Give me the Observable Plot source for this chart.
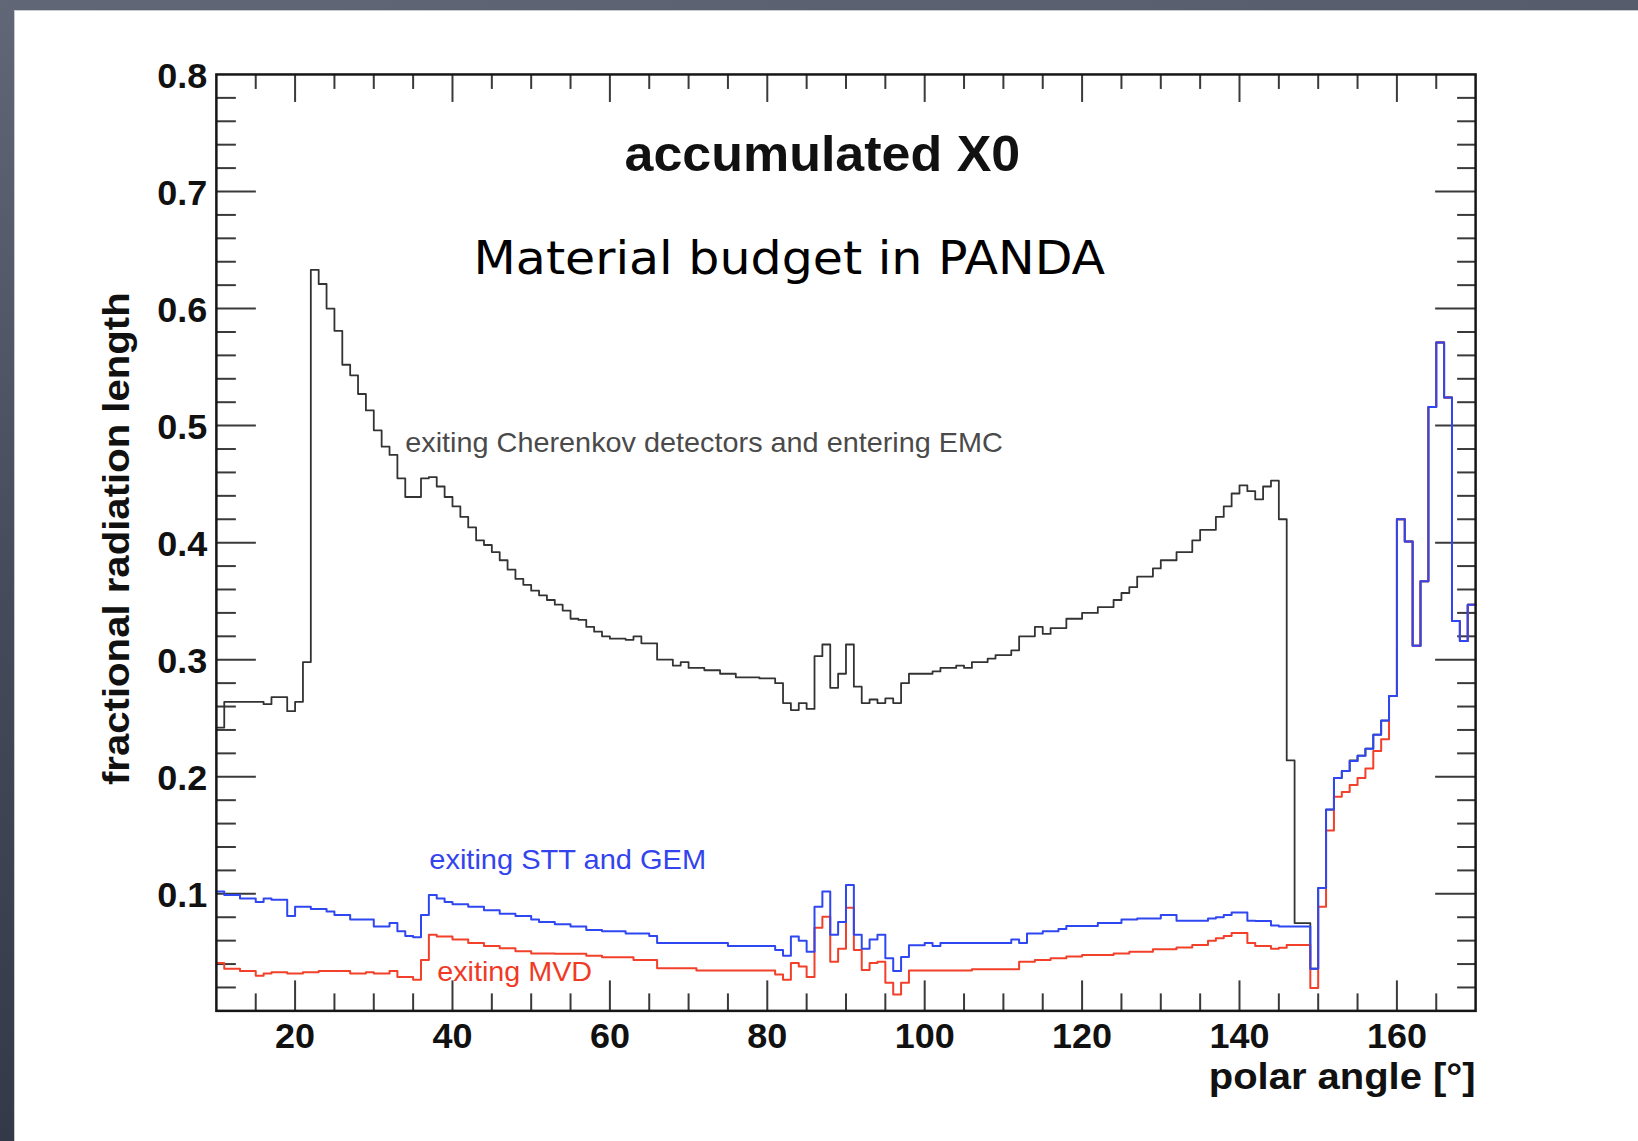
<!DOCTYPE html>
<html>
<head>
<meta charset="utf-8">
<script src="https://cdn.jsdelivr.net/npm/d3@7"></script>
<script src="https://cdn.jsdelivr.net/npm/@observablehq/plot@0.6"></script>
<style>
  html, body { margin: 0; padding: 0; }
  body {
    width: 1638px; height: 1141px; overflow: hidden; position: relative;
    background: linear-gradient(172deg, #626777 0%, #454a5a 45%, #2d3240 100%);
  }
  #panel {
    position: absolute; left: 14px; top: 10px; width: 1624px; height: 1131px;
    background: #fff; border-left: 1px solid #c9cace; border-top: 1px solid #c9cace;
    box-sizing: border-box;
  }
  #panel svg { position: absolute; left: -1px; top: -1px; }
</style>
</head>
<body>
<div id="panel"></div>
<script>
// ---- data: accumulated fractional radiation length per 1-degree polar-angle bin (10..169) ----
const binStart = 10, binWidth = 1;
const cherenkovEMC = [
  0.242,0.264,0.264,0.264,0.264,0.264,0.262,0.268,0.268,0.256,
  0.264,0.298,0.633,0.621,0.600,0.581,0.552,0.543,0.527,0.513,
  0.496,0.482,0.475,0.455,0.439,0.439,0.455,0.456,0.448,0.439,
  0.431,0.422,0.413,0.402,0.398,0.392,0.385,0.377,0.369,0.364,
  0.359,0.355,0.351,0.347,0.342,0.335,0.334,0.328,0.324,0.320,
  0.318,0.318,0.317,0.320,0.314,0.314,0.300,0.300,0.295,0.298,
  0.293,0.293,0.291,0.291,0.288,0.288,0.285,0.285,0.285,0.284,
  0.284,0.280,0.263,0.257,0.263,0.258,0.303,0.313,0.276,0.288,
  0.313,0.277,0.263,0.266,0.263,0.267,0.263,0.280,0.288,0.288,
  0.288,0.290,0.293,0.293,0.295,0.293,0.298,0.298,0.301,0.304,
  0.304,0.308,0.320,0.320,0.328,0.322,0.327,0.327,0.335,0.335,
  0.340,0.340,0.345,0.345,0.351,0.357,0.362,0.371,0.371,0.378,
  0.385,0.385,0.392,0.392,0.402,0.411,0.411,0.422,0.431,0.442,
  0.449,0.444,0.437,0.448,0.453,0.420,0.214,0.075,0.075,0.036,
  0.105,0.172,0.199,0.205,0.214,0.218,0.224,0.236,0.248,0.269,
  0.420,0.401,0.312,0.367,0.516,0.571,0.524,0.333,0.316,0.347
];
const sttGem = [
  0.102,0.099,0.099,0.096,0.096,0.093,0.096,0.095,0.095,0.081,
  0.089,0.089,0.087,0.087,0.085,0.082,0.082,0.078,0.078,0.078,
  0.072,0.072,0.075,0.068,0.064,0.063,0.082,0.099,0.096,0.093,
  0.091,0.091,0.089,0.089,0.086,0.086,0.083,0.083,0.081,0.081,
  0.078,0.076,0.076,0.074,0.074,0.072,0.072,0.069,0.069,0.068,
  0.068,0.068,0.066,0.066,0.066,0.064,0.058,0.058,0.058,0.058,
  0.058,0.058,0.058,0.058,0.058,0.0555,0.0555,0.0555,0.0555,0.0555,
  0.0555,0.052,0.047,0.0635,0.060,0.0505,0.089,0.102,0.065,0.076,
  0.1075,0.065,0.053,0.061,0.065,0.045,0.034,0.046,0.056,0.056,
  0.058,0.0555,0.058,0.058,0.058,0.058,0.058,0.058,0.058,0.058,
  0.058,0.061,0.058,0.066,0.066,0.068,0.068,0.070,0.0725,0.0725,
  0.0725,0.0725,0.075,0.075,0.075,0.078,0.078,0.079,0.079,0.079,
  0.082,0.082,0.077,0.077,0.077,0.077,0.079,0.080,0.082,0.084,
  0.084,0.077,0.0767,0.0767,0.073,0.072,0.072,0.072,0.072,0.036,
  0.105,0.172,0.199,0.205,0.2135,0.218,0.224,0.236,0.248,0.269,
  0.420,0.401,0.312,0.367,0.516,0.571,0.524,0.333,0.316,0.347
];
const mvd = [
  0.041,0.036,0.036,0.034,0.034,0.030,0.032,0.033,0.033,0.032,
  0.032,0.033,0.033,0.034,0.034,0.034,0.034,0.032,0.032,0.033,
  0.032,0.032,0.034,0.029,0.029,0.0265,0.0435,0.065,0.0635,0.0635,
  0.061,0.061,0.058,0.058,0.0555,0.0555,0.0535,0.0535,0.051,0.051,
  0.049,0.049,0.049,0.0487,0.0487,0.0487,0.0487,0.047,0.047,0.0458,
  0.0458,0.0458,0.0458,0.0435,0.0435,0.0435,0.0364,0.0364,0.0364,0.0364,
  0.0364,0.0344,0.0344,0.0344,0.0344,0.0344,0.0344,0.0344,0.0344,0.0344,
  0.0344,0.031,0.0265,0.041,0.038,0.029,0.071,0.0805,0.042,0.053,
  0.088,0.052,0.035,0.041,0.042,0.024,0.014,0.024,0.0344,0.0344,
  0.0344,0.0344,0.0344,0.0344,0.0344,0.0344,0.0356,0.0356,0.0356,0.0356,
  0.0356,0.0356,0.042,0.042,0.0435,0.0435,0.045,0.045,0.0464,0.0464,
  0.0478,0.0478,0.0478,0.0478,0.049,0.049,0.0506,0.0506,0.0506,0.0527,
  0.0527,0.0527,0.0542,0.0542,0.0562,0.0562,0.060,0.062,0.064,0.0665,
  0.0665,0.058,0.0555,0.0555,0.053,0.054,0.0562,0.0562,0.0562,0.0196,
  0.089,0.154,0.183,0.187,0.193,0.199,0.207,0.222,0.232,0.269,
  0.420,0.401,0.312,0.367,0.516,0.571,0.524,0.333,0.316,0.347
];
const xTickLabels = [20, 40, 60, 80, 100, 120, 140, 160];
const xMinorTicks = [15,25,30,35,45,50,55,65,70,75,85,90,95,105,110,115,125,130,135,145,150,155,165];
const yTickLabels = [0.1, 0.2, 0.3, 0.4, 0.5, 0.6, 0.7, 0.8];
const yMajorTicks = [0.1, 0.2, 0.3, 0.4, 0.5, 0.6, 0.7];
const yMinorTicks = [0.02,0.04,0.06,0.08,0.12,0.14,0.16,0.18,0.22,0.24,0.26,0.28,0.32,0.34,0.36,0.38,
                     0.42,0.44,0.46,0.48,0.52,0.54,0.56,0.58,0.62,0.64,0.66,0.68,0.72,0.74,0.76,0.78];

// histogram rows (bin edges + closing edge for the step line)
function rows(values) {
  const r = values.map((v, i) => ({angle: binStart + i * binWidth, value: v}));
  r.push({angle: binStart + values.length * binWidth, value: values[values.length - 1]});
  return r;
}

const W = 1624, H = 1131, ML = 202, MR = 162, MT = 64, MB = 130;
const FW = W - ML - MR, FH = H - MT - MB;
const FONT = "'Liberation Sans', Arial, Helvetica, sans-serif";
const tickStroke = "#3a3a3a";

const chart = Plot.plot({
  width: W, height: H,
  marginLeft: ML, marginRight: MR, marginTop: MT, marginBottom: MB,
  x: {domain: [10, 170], axis: null},
  y: {domain: [0, 0.8], axis: null},
  style: {fontFamily: FONT, background: "transparent", overflow: "visible"},
  marks: [
    // ticks (inward, on all four sides)
    Plot.tickX(xTickLabels, {x: d => d, insetTop: FH - 30, stroke: tickStroke, strokeWidth: 2}),
    Plot.tickX(xMinorTicks, {x: d => d, insetTop: FH - 17, stroke: tickStroke, strokeWidth: 2}),
    Plot.tickX(xTickLabels, {x: d => d, insetBottom: FH - 28, stroke: tickStroke, strokeWidth: 2}),
    Plot.tickX(xMinorTicks, {x: d => d, insetBottom: FH - 15, stroke: tickStroke, strokeWidth: 2}),
    Plot.tickY(yMajorTicks, {y: d => d, insetRight: FW - 40, stroke: tickStroke, strokeWidth: 2}),
    Plot.tickY(yMinorTicks, {y: d => d, insetRight: FW - 20, stroke: tickStroke, strokeWidth: 2}),
    Plot.tickY(yMajorTicks, {y: d => d, insetLeft: FW - 40, stroke: tickStroke, strokeWidth: 2}),
    Plot.tickY(yMinorTicks, {y: d => d, insetLeft: FW - 18, stroke: tickStroke, strokeWidth: 2}),
    // histograms
    Plot.line(rows(cherenkovEMC), {x: "angle", y: "value", curve: "step-after", stroke: "#333333", strokeWidth: 1.8}),
    Plot.line(rows(mvd), {x: "angle", y: "value", curve: "step-after", stroke: "#f2402a", strokeWidth: 2}),
    Plot.line(rows(sttGem), {x: "angle", y: "value", curve: "step-after", stroke: "#2f47f0", strokeWidth: 2}),
    Plot.frame({stroke: "#161616", strokeWidth: 2.5}),
    // tick labels
    Plot.text(xTickLabels, {x: d => d, frameAnchor: "bottom", dy: 37, text: d => String(d),
      fontSize: 36, fontWeight: "bold", fill: "#111"}),
    Plot.text(yTickLabels, {y: d => d, frameAnchor: "left", dx: -9, dy: 2, textAnchor: "end",
      text: d => d.toFixed(1), fontSize: 36, fontWeight: "bold", fill: "#111"}),
    // axis titles
    Plot.text(["polar angle [°]"], {frameAnchor: "bottom-right", dy: 78, textAnchor: "end",
      fontSize: 37, fontWeight: "bold", fill: "#111"}),
    Plot.text(["fractional radiation length"], {frameAnchor: "top-left", dx: -114, dy: 218, rotate: -90,
      textAnchor: "end", fontSize: 37, fontWeight: "bold", fill: "#111"}),
    // titles
    Plot.text(["accumulated X0"], {x: 87, y: 0.731, fontSize: 50, fontWeight: "bold", fill: "#111"}),
    Plot.text(["Material budget in PANDA"], {x: 82.8, y: 0.642, fontSize: 46,
      fontFamily: "'DejaVu Sans', sans-serif", fill: "#000"}),
    // annotations
    Plot.text(["exiting Cherenkov detectors and entering EMC"], {x: 34.0, y: 0.485, textAnchor: "start",
      fontSize: 28, fill: "#4a4a4a"}),
    Plot.text(["exiting STT and GEM"], {x: 37.05, y: 0.129, textAnchor: "start", fontSize: 28, fill: "#3344ee"}),
    Plot.text(["exiting MVD"], {x: 38.06, y: 0.0333, textAnchor: "start", fontSize: 28, fill: "#f03a25"})
  ]
});

document.getElementById("panel").appendChild(chart);

// fit a few label widths to the reference (pure styling)
const widths = {
  "accumulated X0": 396,
  "Material budget in PANDA": 632,
  "fractional radiation length": 493,
  "polar angle [°]": 267,
  "exiting Cherenkov detectors and entering EMC": 598,
  "exiting STT and GEM": 277,
  "exiting MVD": 155
};
d3.select(chart).selectAll("text").each(function() {
  const t = this.textContent;
  if (widths[t]) {
    d3.select(this).attr("textLength", widths[t]).attr("lengthAdjust", "spacingAndGlyphs");
  }
});
</script>
</body>
</html>
